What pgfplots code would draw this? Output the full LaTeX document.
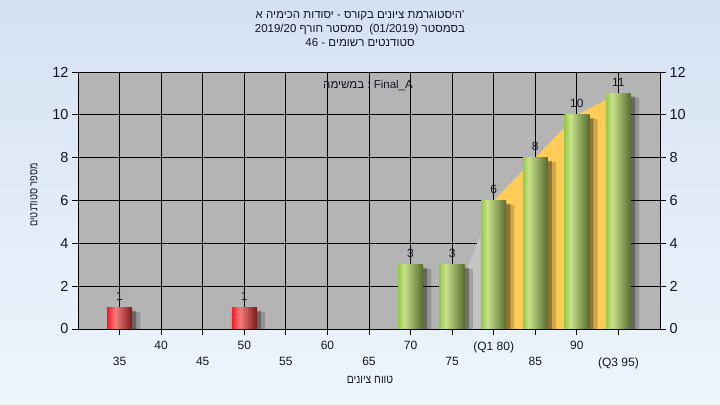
\documentclass[border=0pt]{standalone}
\usepackage{fontspec}
\setmainfont{Liberation Sans}
\newfontfamily\heb[Script=Hebrew]{Liberation Sans}
\usepackage{pgfplots}
\pgfplotsset{compat=1.18}
\TeXXeTstate=1
\newcommand\fs[1]{\fontsize{#1bp}{#1bp}\selectfont}
\newcommand\w[1]{\mbox{\heb #1}}
\newcommand\lt[1]{\mbox{\rmfamily #1}}

\definecolor{bgtop}{RGB}{213,225,242}
\definecolor{bgbot}{RGB}{238,245,253}
\definecolor{plotgray}{RGB}{180,180,180}
\definecolor{lightarea}{RGB}{196,196,196}
\definecolor{orarea}{RGB}{255,204,88}
\definecolor{txt}{RGB}{20,20,40}
\definecolor{r1}{RGB}{245,25,35}
\definecolor{r2}{RGB}{242,125,125}
\definecolor{r3}{RGB}{125,25,25}
\definecolor{g1}{RGB}{150,200,70}
\definecolor{g2}{RGB}{200,226,140}
\definecolor{g3}{RGB}{85,108,45}

\pgfdeclarehorizontalshading{redbar}{100bp}{color(0bp)=(r1); color(25bp)=(r1); color(41bp)=(r2); color(75bp)=(r3); color(100bp)=(r3)}
\pgfdeclarehorizontalshading{greenbar}{100bp}{color(0bp)=(g1); color(25bp)=(g1); color(37bp)=(g2); color(75bp)=(g3); color(100bp)=(g3)}

\pgfplotsset{
  barbase/.style={ybar, bar width=3, bar shift=0pt, draw=none, shade,
    nodes near coords, nodes near coords style={font=\fs{12}, text=txt, anchor=south, inner sep=0pt, yshift=7bp}},
  redb/.style={barbase, shading=redbar},
  greenb/.style={barbase, shading=greenbar},
  shad/.style={ybar, bar width=3, bar shift=0pt, fill=black, draw=none, opacity=#1},
}

\begin{document}
\begin{tikzpicture}
\shade[top color=bgtop, bottom color=bgbot] (0,0) rectangle (720bp,405bp);
\node[font=\fs{11.5}, text=txt, inner sep=0pt] at (360bp,389bp) {{\heb\beginR '\kern0pt היסטוגרמת ציונים בקורס - יסודות הכימיה א\endR}};
\node[font=\fs{11.5}, text=txt, inner sep=0pt] at (360bp,375bp) {{\heb\beginR בסמסטר \lt{(01/2019)}\ \ סמסטר חורף \lt{2019/20}\endR}};
\node[font=\fs{11.5}, text=txt, inner sep=0pt] at (360bp,362bp) {{\heb\beginR סטודנטים רשומים - \lt{46}\endR}};
\node[font=\fs{12}, text=txt, inner sep=0pt, xscale=0.86] at (370bp,25bp) {{\heb\beginR טווח ציונים\endR}};
\node[font=\fs{11.5}, text=txt, inner sep=0pt, rotate=90, xscale=0.8] at (34bp,210bp) {{\heb\beginR מספר סטודנטים\endR}};

\begin{axis}[
  at={(78bp,76bp)}, anchor=south west, scale only axis,
  width=582bp, height=257bp,
  xmin=30, xmax=100, ymin=0, ymax=12,
  axis background/.style={fill=plotgray},
  xtick={40,50,60,70,80,90},
  xticklabels={40,50,60,70,(Q1 80),90},
  extra x ticks={35,45,55,65,75,85,95},
  extra x tick labels={35,45,55,65,75,85,(Q3 95)},
  extra x tick style={grid=major, tick label style={yshift=-16bp}},
  ytick={0,2,4,6,8,10,12},
  xtick pos=bottom, ytick pos=left,
  tick align=outside, major tick length=6bp,
  tick style={black, line width=0.8bp},
  grid=major, grid style={black, line width=0.8bp},
  axis line style={black, line width=0.8bp},
  /pgf/number format/assume math mode=true,
  xticklabel style={font=\fs{12}, text=txt, yshift=-3bp},
  yticklabel style={font=\fs{14.5}, text=txt},
  clip=false,
]
\addplot[fill=lightarea, draw=none] coordinates {(75,1) (80,6)} \closedcycle;
\addplot[fill=orarea, draw=none] coordinates {(80,6) (85,8) (90,10) (95,11)} \closedcycle;
% shadows
\addplot[shad=0.18]
  coordinates {(36,0.8) (51,0.8) (71,2.8) (76,2.8) (81,5.8) (86,7.8) (91,9.8) (96,10.8)};
\addplot[shad=0.3]
  coordinates {(35.5,0.85) (50.5,0.85) (70.5,2.85) (75.5,2.85) (80.5,5.85) (85.5,7.85) (90.5,9.85) (95.5,10.85)};
% bars (one plot per bar so each bar gets its own shading)
\addplot[redb] coordinates {(35,1)};
\addplot[redb] coordinates {(50,1)};
\addplot[greenb] coordinates {(70,3)};
\addplot[greenb] coordinates {(75,3)};
\addplot[greenb] coordinates {(80,6)};
\addplot[greenb] coordinates {(85,8)};
\addplot[greenb] coordinates {(90,10)};
\addplot[greenb] coordinates {(95,11)};
\end{axis}

\begin{axis}[
  at={(78bp,76bp)}, anchor=south west, scale only axis,
  width=582bp, height=257bp,
  xmin=30, xmax=100, ymin=0, ymax=12,
  axis y line*=right, axis x line=none,
  ytick={0,2,4,6,8,10,12},
  tick align=outside, major tick length=6bp,
  tick style={black, line width=0.8bp},
  axis line style={black, line width=0.8bp},
  /pgf/number format/assume math mode=true,
  yticklabel style={font=\fs{14.5}, text=txt},
]
\addplot[draw=none] coordinates {(30,0)};
\end{axis}
\node[font=\fs{11.5}, text=txt, inner sep=0pt] at (368bp,320bp) {\w{במשימה} \mbox{:} \mbox{Final\_A}};
\end{tikzpicture}
\end{document}
